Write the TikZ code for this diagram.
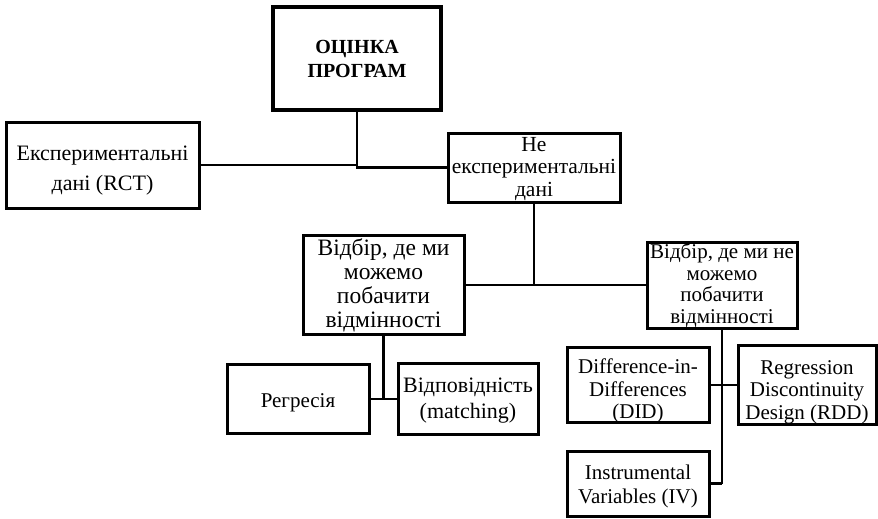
\documentclass[tikz,border=0pt]{standalone}
\usepackage{fontspec}
\setmainfont{Liberation Serif}
\newcommand\padtop[1]{\rule{0pt}{#1pt}}
\tikzset{
  box/.style={draw=black, line width=3pt, fill=white, inner sep=0pt, align=center, anchor=center,
    font=\fontsize{21}{22.5}\selectfont},
  bigbox/.style={box, font=\fontsize{23.5}{24}\selectfont},
  titlebox/.style={box, line width=3.2pt, font=\fontsize{20}{24}\selectfont\bfseries},
  link/.style={draw=black, line width=2.9pt},
  thinlink/.style={draw=black, line width=2.3pt},
}
\begin{document}
\begin{tikzpicture}[x=1pt, y=-1pt]
\useasboundingbox (0,0) rectangle (878,519);
\node[titlebox, minimum width=168pt, minimum height=103pt] (top) at (357,58.5) {ОЦІНКА\\ПРОГРАМ};
\node[box, minimum width=193pt, minimum height=86pt, font=\fontsize{22}{30}\selectfont] (exp) at (102.5,165) {\padtop{25}Експериментальні\\дані (RCT)};
\node[box, minimum width=172pt, minimum height=69pt, font=\fontsize{21.5}{22.5}\selectfont] (nonexp) at (534,167.5) {\padtop{17}Не\\експериментальні\\дані};
\node[bigbox, minimum width=161pt, minimum height=99pt] (sel1) at (383.5,285) {Відбір, де ми\\можемо\\побачити\\відмінності};
\node[box, minimum width=150pt, minimum height=86pt, font=\fontsize{21}{21.5}\selectfont] (sel2) at (722,285) {\padtop{16}Відбір, де ми не\\можемо\\побачити\\відмінності};
\node[box, minimum width=142pt, minimum height=69pt] (reg) at (298,399) {\padtop{22}Регресія};
\node[box, minimum width=140pt, minimum height=71pt, font=\fontsize{22}{26}\selectfont] (match) at (468,399) {\padtop{18.5}Відповідність\\(matching)};
\node[box, minimum width=142pt, minimum height=70pt] (did) at (638,385) {\padtop{26.5}Difference-in-\\Differences\\(DID)};
\node[box, minimum width=138pt, minimum height=69pt] (rdd) at (807,385) {\padtop{28.5}Regression\\Discontinuity\\Design (RDD)};
\node[box, minimum width=142pt, minimum height=65pt, font=\fontsize{21}{24}\selectfont] (iv) at (638,483.5) {\padtop{20.5}Instrumental\\Variables (IV)};

\draw[thinlink] (exp.east) -- (exp.east -| top.south);
\draw[link] (top.south) |- (nonexp.west);
\draw[link] (nonexp.south) -- (nonexp.south |- sel1.east);
\draw[link] (sel1.east) -- (sel2.west);
\draw[link] (sel1.south) -- (sel1.south |- reg.east);
\draw[link] (reg.east) -- (match.west);
\draw[link] (sel2.south) -- (sel2.south |- iv.east);
\draw[link] (iv.east) -- (iv.east -| sel2.south);
\draw[link] (did.east) -- (rdd.west);
\end{tikzpicture}
\end{document}
